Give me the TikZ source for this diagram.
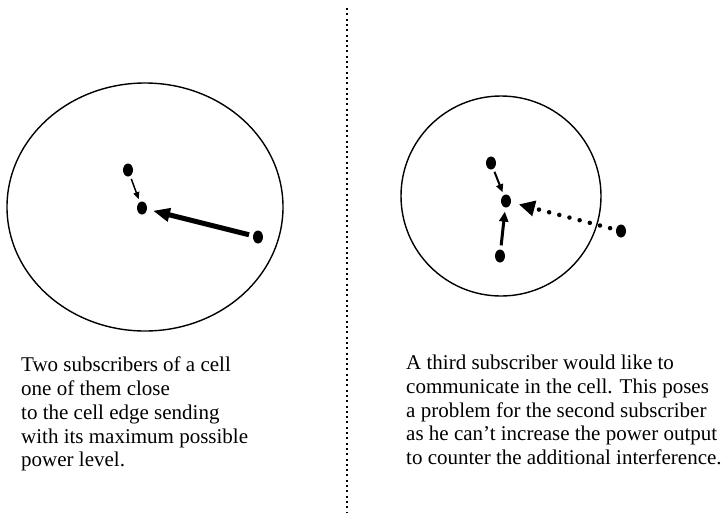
\documentclass[tikz,border=0pt]{standalone}
\usepackage{fontspec}
\setmainfont{Liberation Serif}
\usetikzlibrary{arrows.meta, positioning, shapes.geometric}

\tikzset{
  station/.style={ellipse, fill=black, inner sep=0pt, minimum width=10pt, minimum height=13pt},
  cellrim/.style={line width=1.4pt},
  caption/.style={font=\fontsize{21}{23.7}\selectfont, align=left, anchor=north west, inner sep=0pt},
}

\begin{document}
\begin{tikzpicture}[x=1pt, y=-1pt]
  \useasboundingbox (0,0) rectangle (725,512);

  %% Divider between the two cases
  \draw[line width=2pt, dash pattern=on 2pt off 3.3pt] (347,8) -- (347,512);

  %% Left cell: two subscribers
  \draw[cellrim] (145,207) ellipse (138pt and 124pt);
  \node[station] (la) at (128,170) {};
  \node[station] (lb) at (142,208) {};
  \node[station] (lc) at (258,237) {};
  \draw[line width=1.5pt, -{Triangle[length=7pt, width=6pt]}, shorten <=3pt, shorten >=3pt] (la) -- (lb);
  \draw[line width=5pt, -{Triangle[length=17pt, width=13pt]}, shorten <=4pt, shorten >=6pt] (lc) -- (lb);

  %% Right cell: a third subscriber
  \draw[cellrim] (501,196) circle (100pt);
  \node[station] (ra) at (491,163) {};
  \node[station] (rb) at (506,201) {};
  \node[station] (rc) at (500,256) {};
  \node[station] (rd) at (621,231) {};
  \draw[line width=2pt, -{Triangle[length=8pt, width=7pt]}, shorten <=3pt, shorten >=3pt] (ra) -- (rb);
  \draw[line width=3pt, -{Triangle[length=10pt, width=9pt]}, shorten <=4pt, shorten >=4pt] (rc) -- (rb);
  \draw[line width=4.5pt, line cap=round, dash pattern=on 0pt off 10.5pt,
        -{Triangle[length=16pt, width=15pt]}, shorten <=6pt, shorten >=8pt] (rd) -- (rb);

  %% Captions
  \node[caption] (lcap) at (21,357)
    {Two subscribers of a cell\\one of them close\\to the cell edge sending\\with its maximum possible\\power level.};
  \node[caption] (rcap) at (406,355)
    {A third subscriber would like to\\communicate in the cell. This poses\\a problem for the second subscriber\\as he can’t increase the power output\\to counter the additional interference.};

\end{tikzpicture}
\end{document}
